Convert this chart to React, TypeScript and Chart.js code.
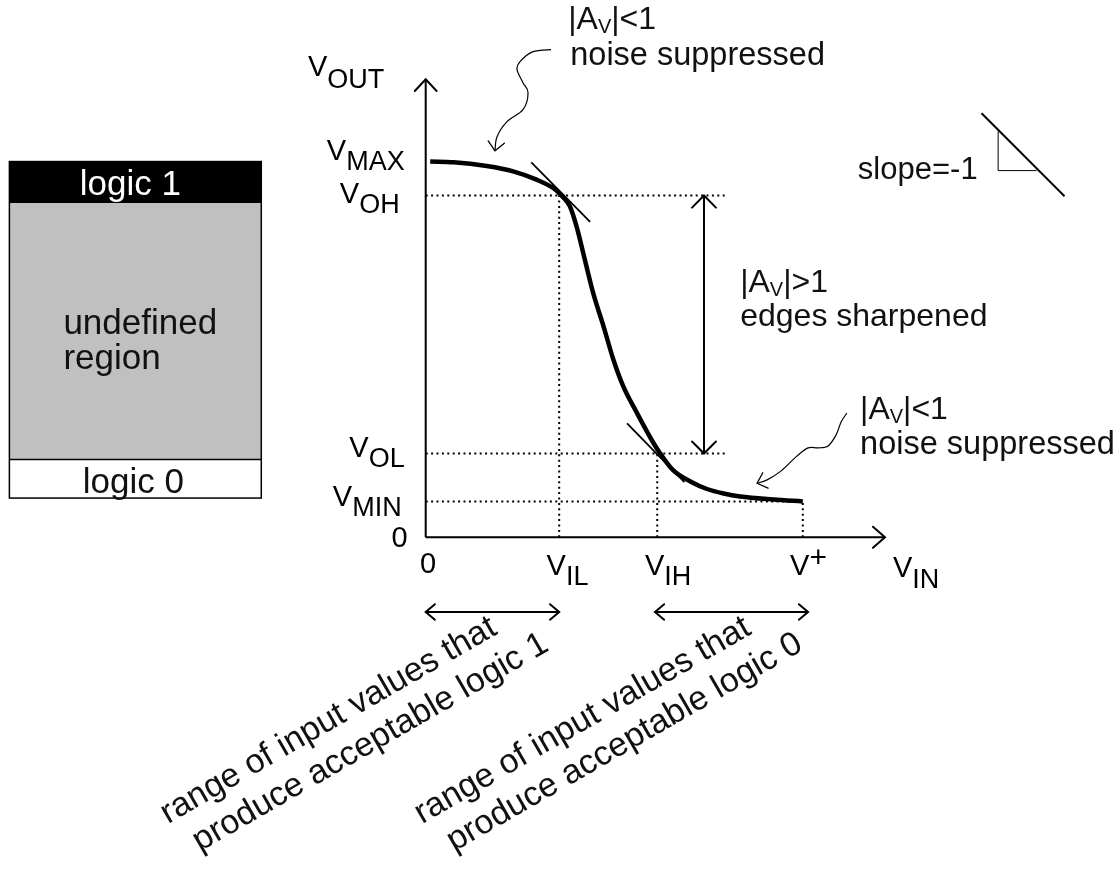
import React, { useEffect, useRef } from 'react';
import { Chart, registerables } from 'chart.js';

Chart.register(...registerables);

// ---------------- data (volts) ----------------
const V_PLUS = 5.0;
const V_MAX = 4.98;
const V_OH = 4.53;
const V_OL = 1.11;
const V_MIN = 0.475;
const V_IL = 1.77;
const V_IH = 3.07;
const X_MAX = 6.09;
const Y_MAX = 6.07;

const curveX = [0.06, 0.37, 0.81, 1.16, 1.47, 1.69, 1.8, 1.91, 2.0, 2.11, 2.22, 2.36, 2.49, 2.62, 2.8, 3.02, 3.11, 3.28, 3.51, 3.73, 3.95, 4.17, 4.61, 5.0];
const curveY = [4.98, 4.97, 4.92, 4.85, 4.74, 4.63, 4.53, 4.39, 4.12, 3.68, 3.24, 2.79, 2.35, 2.0, 1.65, 1.25, 1.11, 0.89, 0.74, 0.64, 0.58, 0.54, 0.5, 0.475];

const tanHighX = [1.4, 2.18];
const tanHighY = [4.97, 4.18];
const tanLowX = [2.67, 3.43];
const tanLowY = [1.51, 0.73];

const guideEnd = 4.0; // end of the V_OH / V_OL dotted guides
const swingX = 3.69; // double arrow V_OL..V_OH

const rangeLogic1 = [0, 1.77];
const rangeLogic0 = [3.04, 5.07];
const rangeArrowY = -0.99;

const yTickValues = [V_MAX, V_OH, V_OL, V_MIN, 0];
const yTickMain = ['V', 'V', 'V', 'V', '0'];
const yTickSub = ['MAX', 'OH', 'OL', 'MIN', ''];

const xTickValues = [0, V_IL, V_IH, V_PLUS];
const xTickMain = ['0', 'V', 'V', 'V'];
const xTickSub = ['', 'IL', 'IH', ''];
const xTickSup = ['', '', '', '+'];

// legend box (logic levels), in volts / input units
const boxX = [-5.52, -2.18];
const boxLevels = [4.98, 4.44, 1.03, 0.52];
const boxTexts = ['logic 1', 'undefined', 'region', 'logic 0'];

// squiggly pointer arrows
const squiggleTopX = [1.662, 1.423, 1.251, 1.211, 1.29, 1.357, 1.29, 1.078, 0.946, 0.919];
const squiggleTopY = [6.463, 6.436, 6.304, 6.198, 6.025, 5.893, 5.667, 5.508, 5.309, 5.123];
const squiggleBotX = [5.584, 5.508, 5.442, 5.336, 5.203, 5.071, 4.925, 4.713, 4.527, 4.394];
const squiggleBotY = [1.645, 1.529, 1.357, 1.211, 1.185, 1.185, 1.079, 0.88, 0.761, 0.716];

// annotation anchors (x, y in axis units)
const noteTop = [1.89, 6.74];
const noteMid = [4.17, 3.253];
const noteBot = [5.76, 1.569];
const slopeTextAt = [5.73, 4.752];
const slopeLineX = [7.37, 8.47];
const slopeLineY = [5.62, 4.52];
const slopeTriX = [7.59, 7.59, 8.1];
const slopeTriY = [5.38, 4.86, 4.86];

const rangeTextAnchorX = [-3.418, -0.049];
const rangeTextAnchorY = [-3.802, -3.802];
const rangeTextLine1 = ['range of input values that', 'range of input values that'];
const rangeTextLine2 = ['produce acceptable logic 1', 'produce acceptable logic 0'];

// ---------------- drawing helpers ----------------
const FONT = '"Liberation Sans", Arial, Helvetica, sans-serif';
const f = (s: number) => `${s}px ${FONT}`;

type Part = { t: string; size: number; dy?: number };

function drawParts(ctx: CanvasRenderingContext2D, parts: Part[], x: number, y: number, align = 'left') {
  let w = 0;
  for (const p of parts) {
    ctx.font = f(p.size);
    w += ctx.measureText(p.t).width;
  }
  let cx = align === 'right' ? x - w : align === 'center' ? x - w / 2 : x;
  for (const p of parts) {
    ctx.font = f(p.size);
    ctx.fillText(p.t, cx, y + (p.dy || 0));
    cx += ctx.measureText(p.t).width;
  }
}

function chevron(ctx: CanvasRenderingContext2D, tx: number, ty: number, dirAngle: number, len: number, spread: number, lw: number) {
  ctx.save();
  ctx.lineWidth = lw;
  ctx.lineCap = 'round';
  ctx.beginPath();
  ctx.moveTo(tx - len * Math.cos(dirAngle - spread), ty - len * Math.sin(dirAngle - spread));
  ctx.lineTo(tx, ty);
  ctx.lineTo(tx - len * Math.cos(dirAngle + spread), ty - len * Math.sin(dirAngle + spread));
  ctx.stroke();
  ctx.restore();
}

function smoothPath(ctx: CanvasRenderingContext2D, pts: number[][]) {
  ctx.moveTo(pts[0][0], pts[0][1]);
  for (let i = 0; i < pts.length - 1; i++) {
    const p0 = pts[i - 1] || pts[i];
    const p1 = pts[i];
    const p2 = pts[i + 1];
    const p3 = pts[i + 2] || p2;
    ctx.bezierCurveTo(
      p1[0] + (p2[0] - p0[0]) / 6, p1[1] + (p2[1] - p0[1]) / 6,
      p2[0] - (p3[0] - p1[0]) / 6, p2[1] - (p3[1] - p1[1]) / 6,
      p2[0], p2[1]
    );
  }
}

function avLabel(rel: string, size: number): Part[] {
  return [
    { t: '|A', size },
    { t: 'V', size: Math.round(size * 0.64), dy: 4 },
    { t: '|' + rel, size },
  ];
}

const diagramPlugin = {
  id: 'diagram',
  afterDraw(chart: any) {
    const ctx: CanvasRenderingContext2D = chart.ctx;
    const xs = chart.scales.x;
    const ys = chart.scales.y;
    const X = (v: number) => xs.getPixelForValue(v);
    const Y = (v: number) => ys.getPixelForValue(v);
    ctx.save();
    ctx.strokeStyle = '#000';
    ctx.fillStyle = '#000';
    ctx.textAlign = 'left';
    ctx.textBaseline = 'alphabetic';

    // axes with arrows
    const ox = X(0), oy = Y(0);
    ctx.lineWidth = 2;
    ctx.beginPath();
    ctx.moveTo(ox, oy);
    ctx.lineTo(X(X_MAX), oy);
    ctx.moveTo(ox, oy);
    ctx.lineTo(ox, Y(Y_MAX));
    ctx.stroke();
    chevron(ctx, X(X_MAX), oy, 0, 16, 0.72, 2);
    chevron(ctx, ox, Y(Y_MAX), -Math.PI / 2, 16, 0.75, 2);

    // y tick labels
    const ySub = 10;
    const yOff = [[-21, -1.7], [-26, 7.6], [-21, 3], [-24, 4.3], [-18, 9.4]];
    yTickValues.forEach((v, i) => {
      const parts: Part[] = [{ t: yTickMain[i], size: 29 }];
      if (yTickSub[i]) parts.push({ t: yTickSub[i], size: 27, dy: ySub });
      drawParts(ctx, parts, ox + yOff[i][0], Y(v) + yOff[i][1], 'right');
    });

    // x tick labels
    const xOff = [[-5.7, 35.7], [-12.6, 37.7], [-12.3, 37.7], [-12.7, 37.7]];
    xTickValues.forEach((v, i) => {
      const parts: Part[] = [{ t: xTickMain[i], size: 29 }];
      if (xTickSub[i]) parts.push({ t: xTickSub[i], size: 27, dy: 10 });
      if (xTickSup[i]) parts.push({ t: xTickSup[i], size: 30, dy: -8 });
      drawParts(ctx, parts, X(v) + xOff[i][0], oy + xOff[i][1], 'left');
    });

    // axis titles
    drawParts(ctx, [{ t: 'V', size: 29 }, { t: 'OUT', size: 27, dy: 12 }], ox - 117.7, Y(Y_MAX) - 3, 'left');
    drawParts(ctx, [{ t: 'V', size: 29 }, { t: 'IN', size: 27, dy: 11 }], X(X_MAX) + 8, oy + 39.7, 'left');

    // swing double arrow heads
    const sx = X(swingX);
    chevron(ctx, sx, Y(V_OH), -Math.PI / 2, 17, 0.78, 2);
    chevron(ctx, sx, Y(V_OL), Math.PI / 2, 17, 0.78, 2);

    // input range arrows
    for (const r of [rangeLogic1, rangeLogic0]) {
      const y = Y(rangeArrowY);
      ctx.lineWidth = 2;
      ctx.beginPath();
      ctx.moveTo(X(r[0]), y);
      ctx.lineTo(X(r[1]), y);
      ctx.stroke();
      chevron(ctx, X(r[0]), y, Math.PI, 12, 0.7, 2);
      chevron(ctx, X(r[1]), y, 0, 12, 0.7, 2);
    }

    // rotated range texts
    ctx.fillStyle = '#111';
    for (let i = 0; i < 2; i++) {
      ctx.save();
      ctx.translate(X(rangeTextAnchorX[i]), Y(rangeTextAnchorY[i]));
      ctx.rotate((-30 * Math.PI) / 180);
      ctx.font = f(34);
      ctx.fillText(rangeTextLine1[i], 0, 0);
      ctx.fillText(rangeTextLine2[i], 14, 40);
      ctx.restore();
    }
    ctx.fillStyle = '#000';

    // squiggly pointers
    const sq = (xsA: number[], ysA: number[]) => {
      const pts = xsA.map((x, i) => [X(x), Y(ysA[i])]);
      ctx.lineWidth = 1.2;
      ctx.beginPath();
      smoothPath(ctx, pts);
      ctx.stroke();
      const a = pts[pts.length - 2], b = pts[pts.length - 1];
      chevron(ctx, b[0], b[1], Math.atan2(b[1] - a[1], b[0] - a[0]), 12, 0.75, 1.3);
    };
    sq(squiggleTopX, squiggleTopY);
    sq(squiggleBotX, squiggleBotY);

    // annotations
    ctx.fillStyle = '#111';
    drawParts(ctx, avLabel('<1', 32), X(noteTop[0]), Y(noteTop[1]));
    drawParts(ctx, [{ t: 'noise suppressed', size: 32.5 }], X(noteTop[0]) + 2, Y(noteTop[1]) + 36);
    drawParts(ctx, avLabel('>1', 32), X(noteMid[0]), Y(noteMid[1]));
    drawParts(ctx, [{ t: 'edges sharpened', size: 32 }], X(noteMid[0]), Y(noteMid[1]) + 34);
    drawParts(ctx, avLabel('<1', 32), X(noteBot[0]), Y(noteBot[1]));
    drawParts(ctx, [{ t: 'noise suppressed', size: 32.5 }], X(noteBot[0]), Y(noteBot[1]) + 35);
    drawParts(ctx, [{ t: 'slope=-1', size: 31 }], X(slopeTextAt[0]), Y(slopeTextAt[1]));
    ctx.fillStyle = '#000';

    // slope triangle
    ctx.lineWidth = 2;
    ctx.beginPath();
    ctx.moveTo(X(slopeLineX[0]), Y(slopeLineY[0]));
    ctx.lineTo(X(slopeLineX[1]), Y(slopeLineY[1]));
    ctx.stroke();
    ctx.lineWidth = 1;
    ctx.beginPath();
    ctx.moveTo(X(slopeTriX[0]), Y(slopeTriY[0]));
    ctx.lineTo(X(slopeTriX[1]), Y(slopeTriY[1]));
    ctx.lineTo(X(slopeTriX[2]), Y(slopeTriY[2]));
    ctx.stroke();

    // logic level box
    const bl = X(boxX[0]), br = X(boxX[1]);
    const b0 = Y(boxLevels[0]), b1 = Y(boxLevels[1]), b2 = Y(boxLevels[2]), b3 = Y(boxLevels[3]);
    ctx.fillStyle = '#000';
    ctx.fillRect(bl, b0, br - bl, b1 - b0);
    ctx.fillStyle = '#c0c0c0';
    ctx.fillRect(bl, b1, br - bl, b2 - b1);
    ctx.fillStyle = '#fff';
    ctx.fillRect(bl, b2, br - bl, b3 - b2);
    ctx.lineWidth = 1.5;
    ctx.strokeStyle = '#000';
    ctx.strokeRect(bl, b0, br - bl, b3 - b0);
    ctx.beginPath();
    ctx.moveTo(bl, b1); ctx.lineTo(br, b1);
    ctx.moveTo(bl, b2); ctx.lineTo(br, b2);
    ctx.stroke();
    const bc = (bl + br) / 2;
    ctx.fillStyle = '#fff';
    drawParts(ctx, [{ t: boxTexts[0], size: 35 }], bc - 5, b1 - 7.7, 'center');
    ctx.fillStyle = '#111';
    drawParts(ctx, [{ t: boxTexts[1], size: 35 }], bl + 54, b1 + 132, 'left');
    drawParts(ctx, [{ t: boxTexts[2], size: 35 }], bl + 54, b1 + 167, 'left');
    drawParts(ctx, [{ t: boxTexts[3], size: 35 }], bc - 2, b3 - 5, 'center');

    ctx.restore();
  },
};

const pts = (xa: number[], ya: number[]) => xa.map((x, i) => ({ x, y: ya[i] }));

export default function App() {
  const ref = useRef<HTMLCanvasElement | null>(null);
  useEffect(() => {
    if (!ref.current) return;
    const dotted = (data: { x: number; y: number }[]) => ({
      data,
      borderColor: '#000',
      borderWidth: 2,
      borderDash: [2, 3.4],
      borderCapStyle: 'butt' as const,
      pointRadius: 0,
      showLine: true,
      fill: false,
    });
    const solid = (data: { x: number; y: number }[], w: number) => ({
      data,
      borderColor: '#000',
      borderWidth: w,
      pointRadius: 0,
      showLine: true,
      fill: false,
    });
    const chart = new Chart(ref.current, {
      type: 'scatter',
      data: {
        datasets: [
          { ...solid(pts(curveX, curveY), 4.5), cubicInterpolationMode: 'monotone', borderCapStyle: 'butt' },
          solid(pts(tanHighX, tanHighY), 1.8),
          solid(pts(tanLowX, tanLowY), 1.8),
          solid([{ x: swingX, y: V_OL }, { x: swingX, y: V_OH }], 2),
          dotted([{ x: 0, y: V_OH }, { x: guideEnd, y: V_OH }]),
          dotted([{ x: 0, y: V_OL }, { x: guideEnd, y: V_OL }]),
          dotted([{ x: 0, y: V_MIN }, { x: V_PLUS, y: V_MIN }]),
          dotted([{ x: V_IL, y: 0 }, { x: V_IL, y: V_OH }]),
          dotted([{ x: V_IH, y: 0 }, { x: V_IH, y: V_OL }]),
          dotted([{ x: V_PLUS, y: 0 }, { x: V_PLUS, y: V_MIN }]),
        ] as any,
      },
      options: {
        animation: false,
        responsive: true,
        maintainAspectRatio: false,
        events: [],
        layout: { padding: { left: 425.7, right: 233, top: 79.3, bottom: 331.7 } },
        scales: {
          x: { type: 'linear', min: 0, max: X_MAX, display: false },
          y: { type: 'linear', min: 0, max: Y_MAX, display: false },
        },
        plugins: { legend: { display: false }, tooltip: { enabled: false } },
      },
      plugins: [diagramPlugin],
    });
    return () => chart.destroy();
  }, []);
  return (
    <div style={{ position: 'fixed', left: 0, top: 0, width: 1118, height: 869, background: '#fff' }}>
      <canvas ref={ref} />
    </div>
  );
}
